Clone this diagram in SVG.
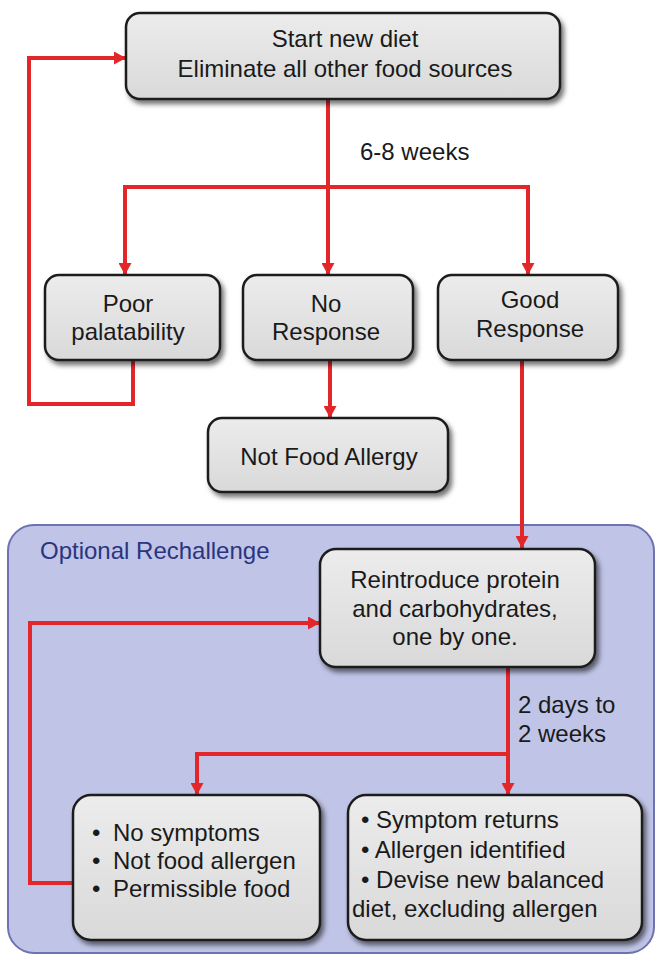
<svg xmlns="http://www.w3.org/2000/svg" width="657" height="957" viewBox="0 0 657 957">
<defs>
  <linearGradient id="boxg" x1="0" y1="0" x2="0" y2="1">
    <stop offset="0" stop-color="#ececec"/>
    <stop offset="1" stop-color="#d9d9d9"/>
  </linearGradient>
  <filter id="sh" x="-10%" y="-10%" width="125%" height="135%">
    <feDropShadow dx="3" dy="4" stdDeviation="2.5" flood-color="#000" flood-opacity="0.55"/>
  </filter>
  <marker id="ah" markerUnits="userSpaceOnUse" markerWidth="13" markerHeight="13" refX="12" refY="6.5" orient="auto">
    <path d="M0,0 L12,6.5 L0,13 Z" fill="#e3262a"/>
  </marker>
  <style>
    .box{fill:url(#boxg);stroke:#1e1e1e;stroke-width:2.5;filter:url(#sh)}
    .t{font-family:"Liberation Sans",Arial,sans-serif;font-size:24px;fill:#1a1a1a}
    .c{text-anchor:middle}
    .con{fill:none;stroke:#e3262a;stroke-width:4;stroke-linejoin:miter}
    .arr{marker-end:url(#ah)}
  </style>
</defs>
<rect width="657" height="957" fill="#ffffff"/>

<g id="panel">
  <rect x="8" y="525" width="646" height="428" rx="26" fill="#c0c4e6" stroke="#6d72b0" stroke-width="2"/>
  <text x="40" y="559" class="t" style="fill:#2a3580">Optional Rechallenge</text>
</g>

<g id="connectors">
  <path class="con arr" d="M328,99 V275"/>
  <path class="con arr" d="M328,187 H125 V275"/>
  <path class="con arr" d="M328,187 H528 V275"/>
  <path class="con arr" d="M133,360 V404 H29 V58 H126"/>
  <path class="con arr" d="M330,360 V418"/>
  <path class="con arr" d="M522,360 V548"/>
  <path class="con arr" d="M508,667 V795"/>
  <path class="con arr" d="M508,754 H197 V795"/>
  <path class="con arr" d="M73,883 H30 V623 H320"/>
</g>

<g id="start">
  <rect class="box" x="126" y="13" width="434" height="86" rx="14"/>
  <text class="t c" x="345" y="47">Start new diet</text>
  <text class="t c" x="345" y="77">Eliminate all other food sources</text>
</g>
<text class="t" x="360" y="160">6-8 weeks</text>

<g id="poor">
  <rect class="box" x="45" y="275" width="175" height="85" rx="14"/>
  <text class="t c" x="128" y="312">Poor</text>
  <text class="t c" x="128" y="340">palatability</text>
</g>
<g id="noresp">
  <rect class="box" x="243" y="275" width="170" height="85" rx="14"/>
  <text class="t c" x="326" y="312">No</text>
  <text class="t c" x="326" y="340">Response</text>
</g>
<g id="good">
  <rect class="box" x="438" y="275" width="180" height="85" rx="14"/>
  <text class="t c" x="530" y="308">Good</text>
  <text class="t c" x="530" y="337">Response</text>
</g>
<g id="notfood">
  <rect class="box" x="208" y="418" width="240" height="74" rx="14"/>
  <text class="t c" x="329" y="465">Not Food Allergy</text>
</g>

<g id="reintro">
  <rect class="box" x="320" y="549" width="275" height="118" rx="16"/>
  <text class="t c" x="455" y="588">Reintroduce protein</text>
  <text class="t c" x="455" y="617">and carbohydrates,</text>
  <text class="t c" x="455" y="645">one by one.</text>
</g>
<text class="t" x="518" y="713">2 days to</text>
<text class="t" x="518" y="742">2 weeks</text>

<g id="nosym">
  <rect class="box" x="73" y="795" width="247" height="145" rx="18"/>
  <text class="t" y="841"><tspan x="92">•</tspan><tspan x="113">No symptoms</tspan></text>
  <text class="t" y="869"><tspan x="92">•</tspan><tspan x="113">Not food allergen</tspan></text>
  <text class="t" y="897"><tspan x="92">•</tspan><tspan x="113">Permissible food</tspan></text>
</g>
<g id="sym">
  <rect class="box" x="348" y="795" width="294" height="145" rx="18"/>
  <text class="t" x="361" y="828">• Symptom returns</text>
  <text class="t" x="361" y="858">• Allergen identified</text>
  <text class="t" x="361" y="888">• Devise new balanced</text>
  <text class="t" x="352" y="917">diet, excluding allergen</text>
</g>
</svg>
